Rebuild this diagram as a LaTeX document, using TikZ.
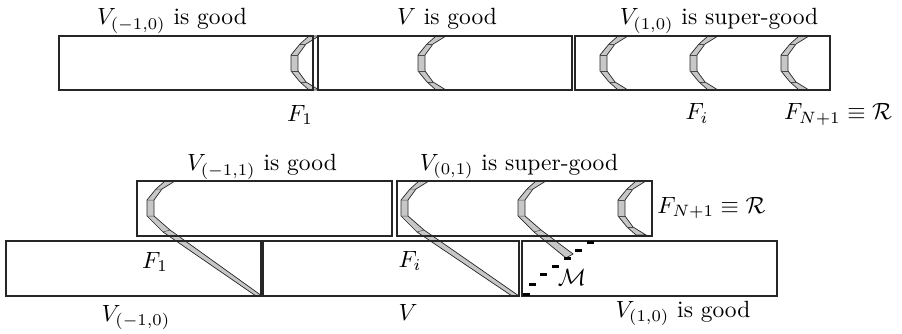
\documentclass[tikz,border=0pt]{standalone}
\usepackage{amssymb}
\tikzset{
  boxe/.style={draw=black!85, line width=1.1pt},
  band/.style={fill=black!22, draw=black!85, line width=0.7pt, line join=miter},
  bandedge/.style={draw=black!70, line width=0.5pt},
  dashbar/.style={fill=black},
  lab/.style={inner sep=0pt, anchor=base, font=\normalsize, scale=2.35},
}
\newcommand\cresc[2]{%
  \begin{scope}[shift={(#1,#2)}]
    \filldraw[band] (18,0)--(9,8)--(0,19)--(0,35)--(9,46)--(18,54)--(28,54)--(15,46)--(7,35)--(7,19)--(15,8)--(28,0)--cycle;
    \draw[bandedge] (9,8)--(15,8) (0,19)--(7,19) (0,35)--(7,35) (9,46)--(15,46);
  \end{scope}}
\newcommand\tcresc[6]{%
  \coordinate (eo) at (#3,#4);
  \coordinate (ei) at (#5,#6);
  \begin{scope}[shift={(#1,#2)}]
    \filldraw[band] (18,0)--(9,8)--(0,19)--(0,35)--(16,51)--(eo)--(ei)--(23,49)--(7,35)--(7,19)--(15,8)--(28,0)--cycle;
    \draw[bandedge] (9,8)--(15,8) (0,19)--(7,19) (0,35)--(7,35) (16,51)--(23,49);
  \end{scope}}
\newcommand\dbar[2]{\fill[dashbar] (#1-3.5,#2-1.5) rectangle ++(7,3);}
\begin{document}
\begin{tikzpicture}[x=1pt,y=-1pt]
\useasboundingbox (0,0) rectangle (902,334);
% ---------- top row ----------
\cresc{291}{36}
\cresc{418}{36}
\cresc{600}{36}
\cresc{690}{36}
\cresc{781}{36}
\draw[boxe] (59,36) rectangle (313,90);
\draw[boxe] (318,36) rectangle (572,90);
\draw[boxe] (575,36) rectangle (830,90);
\node[lab] (t1) at (172,25) {$V_{(-1,0)}$ is good};
\node[lab] (t2) at (447,25) {$V$ is good};
\node[lab] (t3) at (719,25) {$V_{(1,0)}$ is super-good};
\node[lab] (f1) at (300,121) {$F_1$};
\node[lab] (fi) at (697,120) {$F_i$};
\node[lab] (fn) at (838,120) {$F_{N+1}\equiv\mathcal{R}$};
% ---------- bottom row ----------
\tcresc{147}{181}{256}{296}{262}{296}
\tcresc{401}{181}{512}{296}{519}{296}
\tcresc{518}{181}{566}{258}{573}{254}
\cresc{618}{181}
\draw[boxe] (137,181) rectangle (392,236);
\draw[boxe] (397,181) rectangle (652,236);
\draw[boxe] (6,241) rectangle (261,296);
\draw[boxe] (263,241) rectangle (519,296);
\draw[boxe] (522,241) rectangle (777,296);
\dbar{590}{242}
\dbar{578}{250}
\dbar{567}{258}
\dbar{555}{266}
\dbar{543}{274}
\dbar{532}{284}
\dbar{526}{294}
\node[lab] (u1) at (262,171) {$V_{(-1,1)}$ is good};
\node[lab] (u2) at (519,170) {$V_{(0,1)}$ is super-good};
\node[lab, anchor=base west] (fn2) at (657,213) {$F_{N+1}\equiv\mathcal{R}$};
\node[lab] (g1) at (155,268) {$F_1$};
\node[lab] (gi) at (410,267) {$F_i$};
\node[lab] (gm) at (572,285) {$\mathcal{M}$};
\node[lab] (l1) at (136,321) {$V_{(-1,0)}$};
\node[lab] (l2) at (408,320) {$V$};
\node[lab] (l3) at (683,317) {$V_{(1,0)}$ is good};
\end{tikzpicture}
\end{document}
